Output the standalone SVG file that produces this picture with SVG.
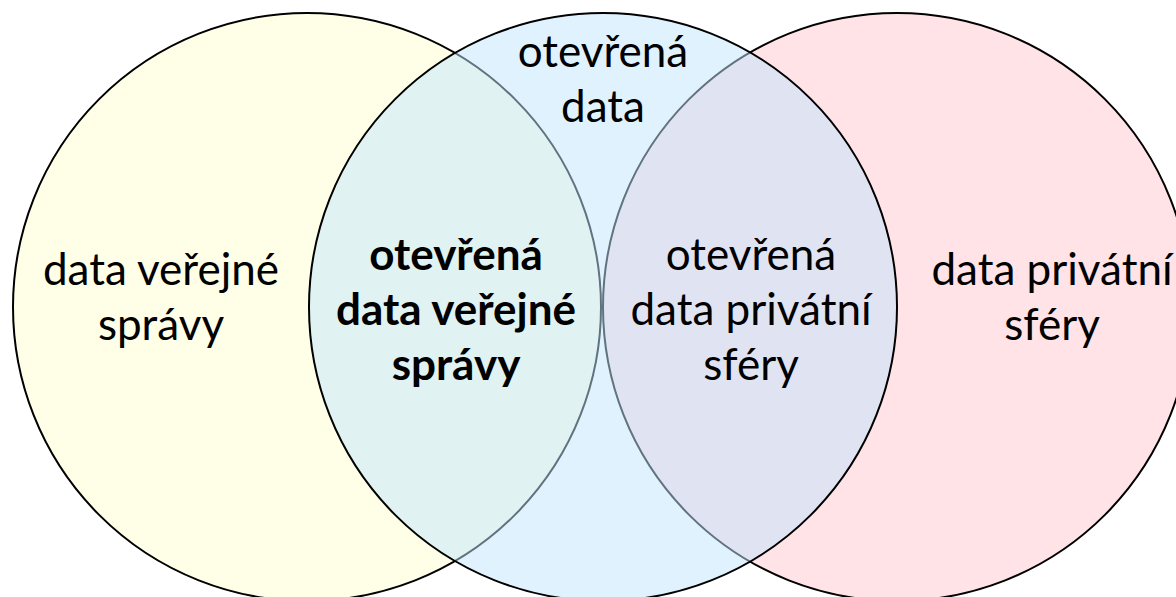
<svg xmlns="http://www.w3.org/2000/svg" width="1176" height="597" viewBox="0 0 1176 597">
<style>
.c{stroke:#000;stroke-width:2}
.t{font-family:Lato,"Open Sans","Liberation Sans",sans-serif;font-size:44px;fill:#000;text-anchor:middle}
.b{font-weight:bold}
</style>
<rect width="1176" height="597" fill="#fff"/>
<g id="verejna">
<circle class="c" cx="307" cy="307" r="294" fill="#FFFEE6"/>
</g>
<g id="privatni">
<circle class="c" cx="897" cy="307" r="294" fill="#FFE3E6"/>
</g>
<g id="otevrena">
<circle class="c" cx="603" cy="307" r="294" fill="#C1E5FD" fill-opacity="0.5"/>
</g>
<g id="labels">
<text class="t" x="603"><tspan x="603" y="67">otevřená</tspan><tspan x="603" y="122">data</tspan></text>
<text class="t"><tspan x="161" y="285">data veřejné</tspan><tspan x="161" y="340">správy</tspan></text>
<text class="t b"><tspan x="456" y="270">otevřená</tspan><tspan x="456" y="325">data veřejné</tspan><tspan x="456" y="380">správy</tspan></text>
<text class="t"><tspan x="751" y="270">otevřená</tspan><tspan x="751" y="325">data privátní</tspan><tspan x="751" y="380">sféry</tspan></text>
<text class="t"><tspan x="1052" y="285">data privátní</tspan><tspan x="1052" y="340">sféry</tspan></text>
</g>
</svg>
